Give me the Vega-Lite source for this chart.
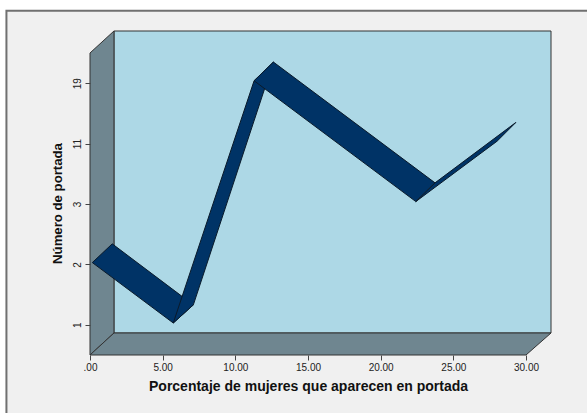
{
"$schema":"https://vega.github.io/schema/vega-lite/v6.json",
"width":461,"height":324,
"autosize":{"type":"none"},
"padding":{"left":90,"top":31,"right":36,"bottom":58},
"background":"#ffffff",
"config":{"view":{"stroke":null},"axis":{"grid":false}},
"datasets":{
"frame":[{"o":0,"x":-5.75,"y":-0.48},{"o":1,"x":-5.75,"y":6.2},{"o":2,"x":34.3,"y":6.2},{"o":3,"x":34.3,"y":-0.48},{"o":4,"x":-5.75,"y":-0.48}],
"back":[{"o":0,"x":1.65,"y":5.864},{"o":1,"x":31.72,"y":5.864},{"o":2,"x":31.72,"y":0.864},{"o":3,"x":1.65,"y":0.864},{"o":4,"x":1.65,"y":5.864}],
"walls":[
{"s":"left","o":0,"x":0,"y":0.5},{"s":"left","o":1,"x":0,"y":5.5},{"s":"left","o":2,"x":1.65,"y":5.864},{"s":"left","o":3,"x":1.65,"y":0.864},{"s":"left","o":4,"x":0,"y":0.5},
{"s":"floor","o":0,"x":0,"y":0.5},{"s":"floor","o":1,"x":1.65,"y":0.864},{"s":"floor","o":2,"x":31.72,"y":0.864},{"s":"floor","o":3,"x":30,"y":0.5},{"s":"floor","o":4,"x":0,"y":0.5}],
"ribbon":[
{"s":"a","o":0,"x":0.16,"y":2.03},{"s":"a","o":1,"x":1.53,"y":2.34},{"s":"a","o":2,"x":7.11,"y":1.33},{"s":"a","o":3,"x":5.73,"y":1.03},{"s":"a","o":4,"x":0.16,"y":2.03},
{"s":"b","o":0,"x":5.73,"y":1.03},{"s":"b","o":1,"x":7.11,"y":1.33},{"s":"b","o":2,"x":12.62,"y":5.35},{"s":"b","o":3,"x":11.29,"y":5.04},{"s":"b","o":4,"x":5.73,"y":1.03},
{"s":"c","o":0,"x":11.29,"y":5.04},{"s":"c","o":1,"x":12.62,"y":5.35},{"s":"c","o":2,"x":23.74,"y":3.35},{"s":"c","o":3,"x":22.42,"y":3.04},{"s":"c","o":4,"x":11.29,"y":5.04},
{"s":"d","o":0,"x":22.42,"y":3.04},{"s":"d","o":1,"x":23.74,"y":3.35},{"s":"d","o":2,"x":29.3,"y":4.35},{"s":"d","o":3,"x":28.01,"y":4.04},{"s":"d","o":4,"x":22.42,"y":3.04}]
},
"layer":[
{"data":{"name":"frame"},"mark":{"type":"line","fill":"#f0f0f0","stroke":"#707070","strokeWidth":2,"clip":false},
"encoding":{"order":{"field":"o"},
"x":{"field":"x","type":"quantitative","scale":{"domain":[0,31.72],"nice":false,"zero":false},
"axis":{"zindex":1,"values":[0,5,10,15,20,25,30],"labelExpr":"datum.value==0?'.00':format(datum.value,'.2f')","domain":false,"tickColor":"#444444","tickSize":5,"labelFont":"Liberation Sans","labelFontSize":10,"labelColor":"#222222","labelPadding":2,"labelFlush":false,"title":"Porcentaje de mujeres que aparecen en portada","titleFont":"Liberation Sans","titleFontSize":14,"titleFontWeight":"bold","titleColor":"#111111","titleX":218,"titleY":24}},
"y":{"field":"y","type":"quantitative","scale":{"domain":[0.5,5.864],"nice":false,"zero":false},
"axis":{"zindex":1,"values":[1,2,3,4,5],"labelExpr":"datum.value==4?'11':datum.value==5?'19':format(datum.value,'d')","domain":false,"tickColor":"#444444","tickSize":5,"labelFont":"Liberation Sans","labelFontSize":10,"labelColor":"#222222","labelAngle":-90,"labelAlign":"center","labelBaseline":"bottom","labelPadding":3,"title":"Número de portada","titleFont":"Liberation Sans","titleFontSize":13.2,"titleFontWeight":"bold","titleColor":"#111111","titleX":-26,"titleY":172}}}},
{"data":{"name":"back"},"mark":{"type":"line","fill":"#add8e6","stroke":"#333333","strokeWidth":1},
"encoding":{"order":{"field":"o"},"x":{"field":"x","type":"quantitative"},"y":{"field":"y","type":"quantitative"}}},
{"data":{"name":"walls"},"mark":{"type":"line","fill":"#6f8690","stroke":"#333333","strokeWidth":1},
"encoding":{"detail":{"field":"s"},"order":{"field":"o"},"x":{"field":"x","type":"quantitative"},"y":{"field":"y","type":"quantitative"}}},
{"data":{"name":"ribbon"},"mark":{"type":"line","fill":"#003366","stroke":"#0a1a2a","strokeWidth":1},
"encoding":{"detail":{"field":"s"},"order":{"field":"o"},"x":{"field":"x","type":"quantitative"},"y":{"field":"y","type":"quantitative"}}}
]
}
